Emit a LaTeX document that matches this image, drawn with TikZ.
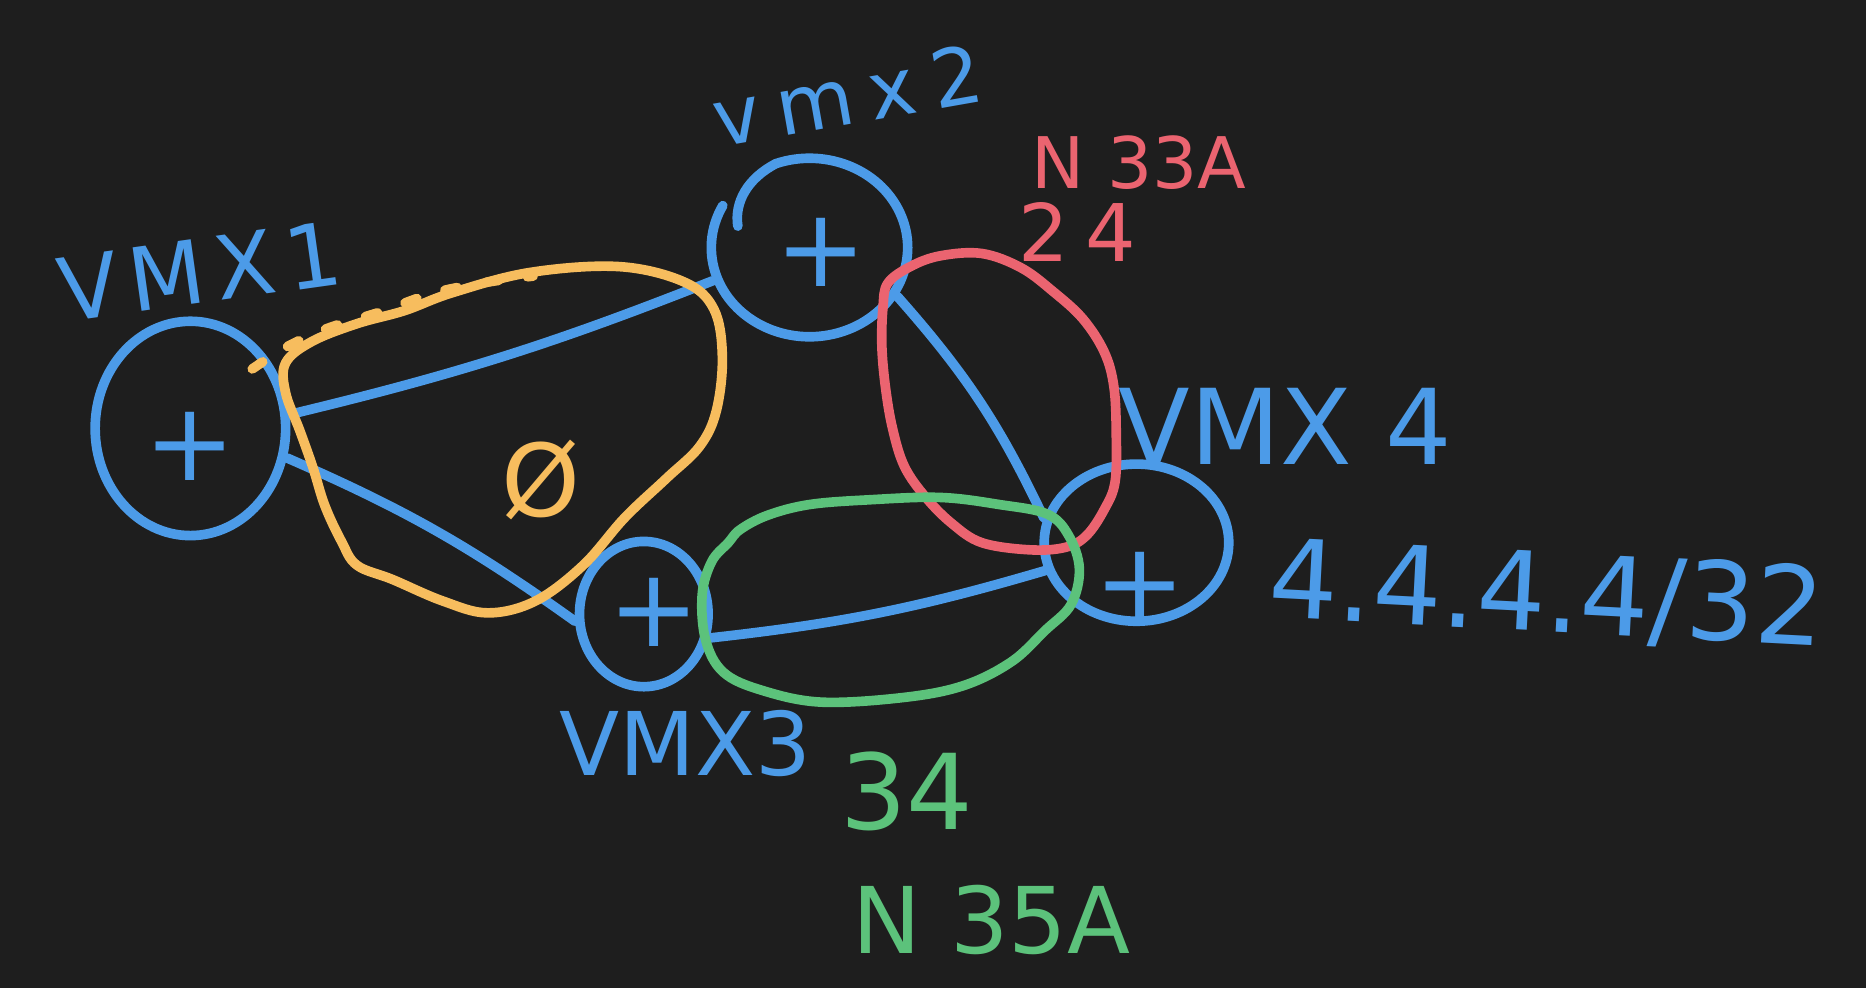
\documentclass[tikz,border=0pt]{standalone}
\usepackage{fontspec}
\setmainfont{DejaVu Sans}
\usetikzlibrary{shapes.geometric}
\definecolor{bg}{HTML}{1E1E1E}
\definecolor{cblue}{HTML}{4C9BE8}
\definecolor{cred}{HTML}{EB6470}
\definecolor{corange}{HTML}{F7BD5E}
\definecolor{cgreen}{HTML}{5CC27B}
\begin{document}
\begin{tikzpicture}[x=0.01cm,y=-0.01cm,line cap=round,line join=round,
  vm/.style={ellipse,draw=cblue,line width=2.3pt,inner sep=0pt},
  link/.style={draw=cblue,line width=2.3pt},
  pen/.style={line width=2.3pt},
  plus/.style={text=cblue,font=\fontsize{26}{26}\selectfont,inner sep=0pt},
  lbl/.style={inner sep=0pt,font=\fontsize{#1}{#1}\selectfont},
  lbl/.default=22,
  spaced/.style={inner sep=0pt,font=\fontsize{#1}{#1}\selectfont\addfontfeature{LetterSpace=12}},
  wide/.style={inner sep=0pt,font=\fontsize{#1}{#1}\selectfont\addfontfeature{LetterSpace=21}}]
\fill[bg] (0,0) rectangle (1568,830);
\useasboundingbox (0,0) rectangle (1568,830);

% VM nodes
\node[vm,minimum width=1.6cm,minimum height=1.8cm] (v1) at (160,360) {};
\node[vm,draw=none,minimum width=1.65cm,minimum height=1.5cm] (v2) at (680,208) {};
\draw[link] (620,190) .. controls (617,170) and (628,150) .. (652,137.5)
  arc[start angle=250,end angle=568,x radius=82.5,y radius=75];
\node[vm,minimum width=1.08cm,minimum height=1.22cm] (v3) at (541,516) {};
\node[vm,minimum width=1.55cm,minimum height=1.32cm] (v4) at (955,456) {};

\node[plus] (p1) at (160,375) {+};
\node[plus] (p2) at (690,212) {+};
\node[plus] (p3) at (550,515) {+};
\node[plus] (p4) at (958,493) {+};

% links
\draw[link] (v1.8) to[bend right=4] (v2.199);
\draw[link] (v1.-17) to[bend left=6] (v3.186);
\draw[link] (v2.-29) to[bend left=8] (v4.165);
\draw[link] (v3.-20) to[bend right=5] (v4.197);

% orange loop (vmx1-vmx2)
\draw[pen,corange] plot[smooth cycle,tension=0.6] coordinates {
 (445,229) (520,224) (575,237) (600,260) (607,300) (602,345) (588,375)
 (560,402) (525,435) (490,475) (450,505) (410,515) (372,505) (330,487)
 (300,475) (287,455) (273,425) (263,393) (252,362) (240,330) (240,305)
 (262,287) (300,272) (340,261) (380,246)};
\draw[pen,corange,dash pattern=on 3pt off 7pt] plot[smooth] coordinates {
 (212,310) (240,292) (275,276) (320,262) (365,246) (410,237) (448,232)};
\node[lbl=24,text=corange] (phi) at (455,403) {Ø};

% red loop (vmx2-vmx4)
\draw[pen,cred] plot[smooth cycle,tension=0.6] coordinates {
 (746,238) (765,224) (790,215) (825,213) (858,225) (885,245) (910,268)
 (928,296) (936,325) (938,365) (937,405) (928,428) (913,450) (895,460)
 (865,462) (825,456) (800,440) (778,418) (760,392) (750,360) (744,325)
 (741,290) (742,258)};

% green loop (vmx3-vmx4)
\draw[pen,cgreen] plot[smooth cycle,tension=0.6] coordinates {
 (612,456) (598,472) (590,500) (593,538) (608,565) (640,580) (690,590)
 (760,586) (810,576) (850,556) (878,530) (900,508) (907,478) (898,450)
 (880,432) (840,424) (790,418) (730,420) (680,424) (645,433) (622,445)};

% labels
\node[spaced=21,text=cblue,rotate=8] (t1) at (168,228) {VMX1};
\node[wide=19,text=cblue,rotate=10] (t2) at (712,80) {vmx2};
\node[lbl=17,text=cred] (t3) at (957,137) {N 33A};
\node[wide=19,text=cred] (t4) at (905,195) {24};
\node[lbl=25,text=cblue] (t5) at (1080,358) {VMX 4};
\node[lbl=26,text=cblue,rotate=-3] (t6) at (1300,501) {4.4.4.4/32};
\node[lbl=21,text=cblue] (t7) at (576,625) {VMX3};
\node[lbl=25,text=cgreen] (t8) at (762,665) {34};
\node[lbl=22,text=cgreen] (t9) at (833,773) {N 35A};
\end{tikzpicture}
\end{document}
